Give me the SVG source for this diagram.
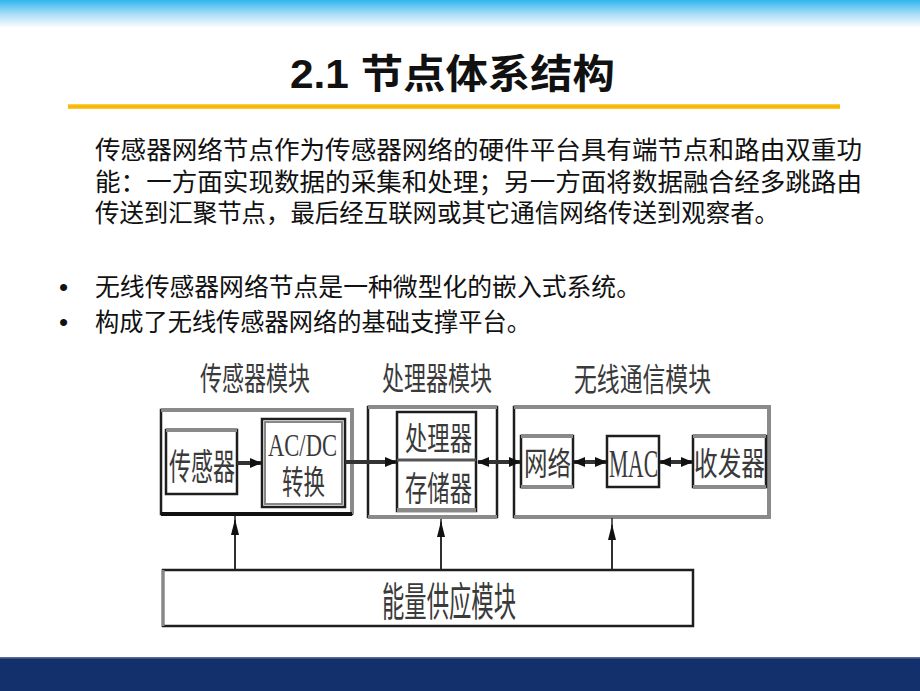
<svg xmlns="http://www.w3.org/2000/svg" width="920" height="691" viewBox="0 0 920 691">
<defs>
<linearGradient id="topg" x1="0" y1="0" x2="0" y2="1">
<stop offset="0" stop-color="#2fb6ef"/>
<stop offset="0.5" stop-color="#a9def7"/>
<stop offset="1" stop-color="#ffffff"/>
</linearGradient>
<linearGradient id="gold" x1="0" y1="0" x2="0" y2="1">
<stop offset="0" stop-color="#ffd54a"/>
<stop offset="0.5" stop-color="#f2b400"/>
<stop offset="1" stop-color="#ffcc33"/>
</linearGradient>
<marker id="ah" markerUnits="userSpaceOnUse" markerWidth="12" markerHeight="12" refX="11" refY="6" orient="auto-start-reverse">
<path d="M0,1 L12,6 L0,11 z" fill="#111"/>
</marker>
<marker id="av" markerUnits="userSpaceOnUse" markerWidth="16" markerHeight="10" refX="15" refY="5" orient="auto">
<path d="M0,1 L16,5 L0,9 z" fill="#111"/>
</marker>
<style>
.para{font-family:"Liberation Sans","Noto Sans CJK SC","Noto Sans CJK JP",sans-serif;font-size:25px;fill:#111}
.bul{font-family:"Liberation Sans",sans-serif;font-size:26px;fill:#111}
.title{font-family:"Liberation Sans","Noto Sans CJK SC","Noto Sans CJK JP",sans-serif;font-size:40px;font-weight:bold;fill:#111}
.lbl{font-family:"Liberation Sans","Noto Sans CJK SC","Noto Sans CJK JP",sans-serif;fill:#3a3a3a}
.ser{font-family:"Liberation Serif",serif;fill:#3a3a3a}
.box{fill:#fff;stroke:#1e1e1e;stroke-width:2.5}
.bev{stroke:#8a8a8a;stroke-width:4;fill:none}
.hc{stroke:#333;stroke-width:4;fill:none}
.vc{stroke:#222;stroke-width:1.5;fill:none}
</style>
</defs>

<rect x="0" y="0" width="920" height="28" fill="url(#topg)"/>
<rect x="0" y="657" width="920" height="34" fill="#14306c"/>
<rect x="0" y="657" width="920" height="1.5" fill="#5a6e9a"/>

<text class="title" x="290" y="88" textLength="325" lengthAdjust="spacingAndGlyphs">2.1 节点体系结构</text>
<rect x="68" y="104" width="772" height="5" fill="url(#gold)"/>

<text class="para" x="95" y="159" textLength="767" lengthAdjust="spacingAndGlyphs">传感器网络节点作为传感器网络的硬件平台具有端节点和路由双重功</text>
<text class="para" x="95" y="191" textLength="767" lengthAdjust="spacingAndGlyphs">能：一方面实现数据的采集和处理；另一方面将数据融合经多跳路由</text>
<text class="para" x="95" y="222" textLength="684" lengthAdjust="spacingAndGlyphs">传送到汇聚节点，最后经互联网或其它通信网络传送到观察者。</text>

<text class="bul" x="59" y="296">•</text>
<text class="para" x="95" y="296" textLength="546" lengthAdjust="spacingAndGlyphs">无线传感器网络节点是一种微型化的嵌入式系统。</text>
<text class="bul" x="59" y="331">•</text>
<text class="para" x="95" y="331" textLength="436" lengthAdjust="spacingAndGlyphs">构成了无线传感器网络的基础支撑平台。</text>

<g id="sensor-module">
<rect class="box" x="161" y="410" width="191" height="104"/>
<path class="bev" d="M161,410 H352 V514"/>
<path d="M161,514 H352" stroke="#111" stroke-width="4"/>
<text class="lbl" x="200" y="390" font-size="32" textLength="110" lengthAdjust="spacingAndGlyphs">传感器模块</text>
</g>
<g id="sensor">
<rect class="box" x="166" y="430" width="71" height="64"/>
<path class="bev" d="M166,430 H237"/>
<text class="lbl" x="169" y="480" font-size="36" textLength="66" lengthAdjust="spacingAndGlyphs">传感器</text>
</g>
<g id="adc">
<rect class="box" x="262" y="419" width="83" height="88"/>
<rect x="265" y="422" width="77" height="82" fill="none" stroke="#888" stroke-width="2"/>
<text class="ser" x="268" y="456" font-size="32" textLength="69" lengthAdjust="spacingAndGlyphs">AC/DC</text>
<text class="lbl" x="282" y="494" font-size="33" textLength="43" lengthAdjust="spacingAndGlyphs">转换</text>
</g>

<g id="processor-module">
<rect class="box" x="368" y="407" width="129" height="110" stroke="#555"/>
<path class="bev" d="M368,407 H497 M368,517 H497"/>
<text class="lbl" x="382" y="390" font-size="32" textLength="110" lengthAdjust="spacingAndGlyphs">处理器模块</text>
</g>
<g id="processor-memory">
<rect class="box" x="397" y="412" width="79" height="99"/>
<path d="M397,460 H476" stroke="#555" stroke-width="3"/>
<path class="bev" d="M397,510 H476"/>
<text class="lbl" x="405" y="450" font-size="32" textLength="67" lengthAdjust="spacingAndGlyphs">处理器</text>
<text class="lbl" x="405" y="501" font-size="34" textLength="67" lengthAdjust="spacingAndGlyphs">存储器</text>
</g>

<g id="wireless-module">
<rect class="box" x="514" y="407" width="255" height="110"/>
<path class="bev" d="M514,407 H769 V517 H514"/>
<text class="lbl" x="574" y="391" font-size="32" textLength="137" lengthAdjust="spacingAndGlyphs">无线通信模块</text>
</g>
<g id="network">
<rect class="box" x="521" y="436" width="52" height="51"/>
<path class="bev" d="M521,436 H573 M521,487 H573"/>
<text class="lbl" x="524" y="475" font-size="32" textLength="47" lengthAdjust="spacingAndGlyphs">网络</text>
</g>
<g id="mac">
<rect class="box" x="607" y="436" width="52" height="51"/>
<text class="ser" x="609" y="477" font-size="40" textLength="49" lengthAdjust="spacingAndGlyphs">MAC</text>
</g>
<g id="transceiver">
<rect class="box" x="693" y="436" width="73" height="51"/>
<path class="bev" d="M693,436 H766 M693,487 H766"/>
<text class="lbl" x="694" y="475" font-size="32" textLength="71" lengthAdjust="spacingAndGlyphs">收发器</text>
</g>

<g id="energy-module">
<rect class="box" x="163" y="570" width="530" height="56"/>
<path d="M163,570 V626" stroke="#888" stroke-width="3"/>
<text class="lbl" x="382" y="616" font-size="40" textLength="134" lengthAdjust="spacingAndGlyphs">能量供应模块</text>
</g>

<g id="connectors">
<path class="hc" d="M237,463 H261" marker-end="url(#ah)"/>
<path class="hc" d="M345,462 H396" marker-end="url(#ah)"/>
<path class="hc" d="M478,462 H520" marker-start="url(#ah)" marker-end="url(#ah)"/>
<path class="hc" d="M574,462 H606" marker-start="url(#ah)" marker-end="url(#ah)"/>
<path class="hc" d="M660,462 H692" marker-start="url(#ah)" marker-end="url(#ah)"/>
<path class="vc" d="M235,570 V516"/>
<path class="vc" d="M235,570 V520" marker-end="url(#av)"/>
<path class="vc" d="M441,570 V519"/>
<path class="vc" d="M441,570 V522" marker-end="url(#av)"/>
<path class="vc" d="M612,570 V518"/>
<path class="vc" d="M612,570 V525" marker-end="url(#av)"/>
</g>
</svg>
